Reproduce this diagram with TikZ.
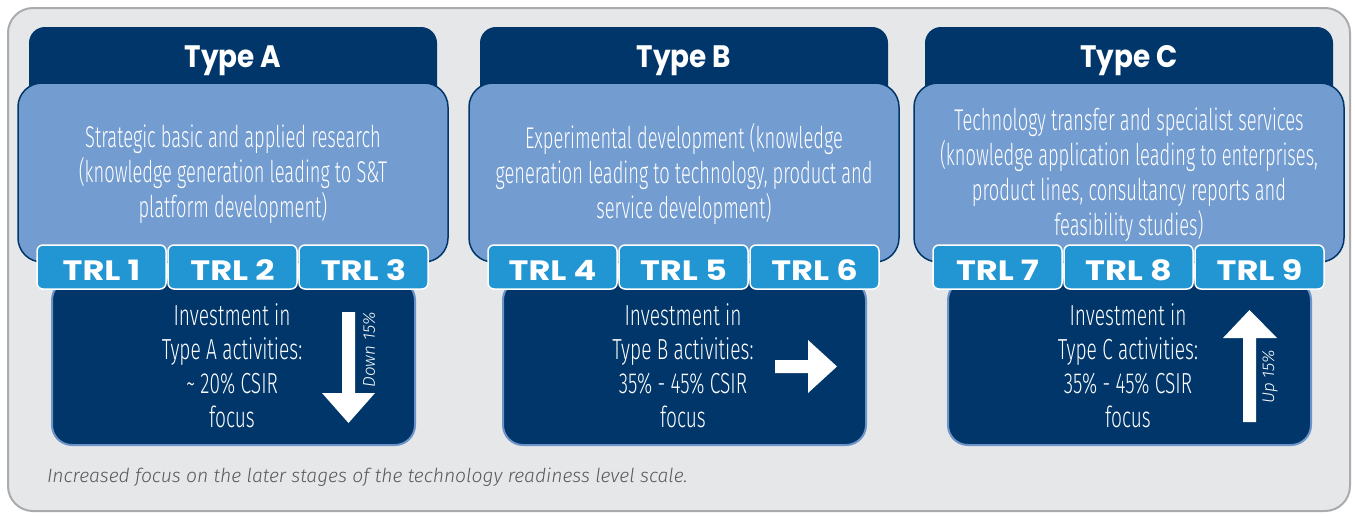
\documentclass[tikz,border=0pt]{standalone}
\usepackage{fontspec}
\setmainfont{Fira Sans}
\newfontfamily\condfont[FakeStretch=0.61]{Fira Sans Light}
\newfontfamily\investfont[FakeStretch=0.66]{Fira Sans Light}
\newfontfamily\smallfont{Fira Sans Light}
\newfontfamily\headfont[FakeStretch=0.9]{Poppins}
\newfontfamily\trlfont[FakeStretch=1.2]{Poppins}
\definecolor{navy}{HTML}{00366A}
\definecolor{lightbox}{HTML}{739CD1}
\definecolor{trlblue}{HTML}{2196D3}
\definecolor{framefill}{HTML}{E6E7E8}
\definecolor{frameline}{HTML}{A9ABAE}
\definecolor{botline}{HTML}{6D94C9}
\definecolor{captiongray}{HTML}{58595B}
\begin{document}
\begin{tikzpicture}[x=1pt,y=-1pt,
  every node/.style={inner sep=0pt, outer sep=0pt},
  framebox/.style={draw=frameline, line width=2pt, fill=framefill, rounded corners=25pt, minimum width=1342pt, minimum height=503pt, anchor=north west},
  headbox/.style={fill=navy, rounded corners=16pt, minimum width=408pt, minimum height=103pt, anchor=north west},
  descbox/.style={fill=lightbox, draw=navy, line width=1.5pt, rounded corners=24pt, minimum width=430pt, minimum height=179pt, anchor=north west},
  investbox/.style={fill=navy, draw=botline, line width=2pt, rounded corners=20pt, minimum width=363pt, minimum height=165pt, anchor=north west},
  trlbox/.style={fill=trlblue, draw=white, line width=1.5pt, rounded corners=6pt, minimum width=129pt, minimum height=44pt, anchor=north west},
  trltext/.style={text=white, font=\trlfont\bfseries\fontsize{28}{30}\selectfont},
  headtext/.style={text=white, font=\headfont\bfseries\fontsize{31}{34}\selectfont},
  desctext/.style={text=white, align=center, font=\condfont\fontsize{30}{35}\selectfont},
  investtext/.style={text=white, align=center, font=\investfont\fontsize{29}{34}\selectfont},
  arrowlabel/.style={text=white, rotate=90, font=\smallfont\itshape\fontsize{17}{20}\selectfont},
  bigarrow/.style={fill=white},
  captiontext/.style={text=captiongray, anchor=west, font=\smallfont\itshape\fontsize{19.3}{22}\selectfont}
]
\useasboundingbox (0,0) rectangle (1355,515);
\node[framebox] (frame) at (8,8) {};

\foreach \s/\dx/\k in {A/0/0,B/451/3,C/896/6}{
  \node[headbox] (head\s) at (29+\dx,27) {};
  \node[descbox] (desc\s) at (18+\dx,83) {};
  \node[investbox] (inv\s) at (52+\dx,280) {};
  \foreach \i in {1,2,3}{
    \pgfmathtruncatemacro\num{\k+\i}
    \node[trlbox] (trl\num) at (37+\dx+131*\i-131,245) {};
    \node[trltext] (trltxt\num) at (101.5+\dx+131*\i-131,270) {TRL \num};
  }
  \node[headtext] (headtxt\s) at (233+\dx,61) {Type \s};
}

\node[desctext] (desctxtA) at (233,174) {Strategic basic and applied research\\(knowledge generation leading to S\&T\\platform development)};
\node[desctext] (desctxtB) at (684,174) {Experimental development (knowledge\\generation leading to technology, product and\\service development)};
\node[desctext] (desctxtC) at (1129,175) {Technology transfer and specialist services\\(knowledge application leading to enterprises,\\product lines, consultancy reports and\\feasibility studies)};

\node[investtext] (invtxtA) at (232,366) {Investment in\\Type A activities:\\\textasciitilde\ 20\% CSIR\\focus};
\node[investtext] (invtxtB) at (683,366) {Investment in\\Type B activities:\\35\% - 45\% CSIR\\focus};
\node[investtext] (invtxtC) at (1128,366) {Investment in\\Type C activities:\\35\% - 45\% CSIR\\focus};

\fill[bigarrow] (342,312) -- (355,312) -- (355,393) -- (375,393) -- (348.5,423) -- (322,393) -- (342,393) -- cycle;
\fill[bigarrow] (775,360) -- (808,360) -- (808,340) -- (837,366.5) -- (808,393) -- (808,373) -- (775,373) -- cycle;
\fill[bigarrow] (1243,422) -- (1256,422) -- (1256,338) -- (1277,338) -- (1249.5,310) -- (1223,338) -- (1243,338) -- cycle;

\node[arrowlabel] (downlbl) at (369,350) {Down 15\%};
\node[arrowlabel] (uplbl) at (1270,377) {Up 15\%};

\node[captiontext] (caption) at (47,477) {Increased focus on the later stages of the technology readiness level scale.};
\end{tikzpicture}
\end{document}
